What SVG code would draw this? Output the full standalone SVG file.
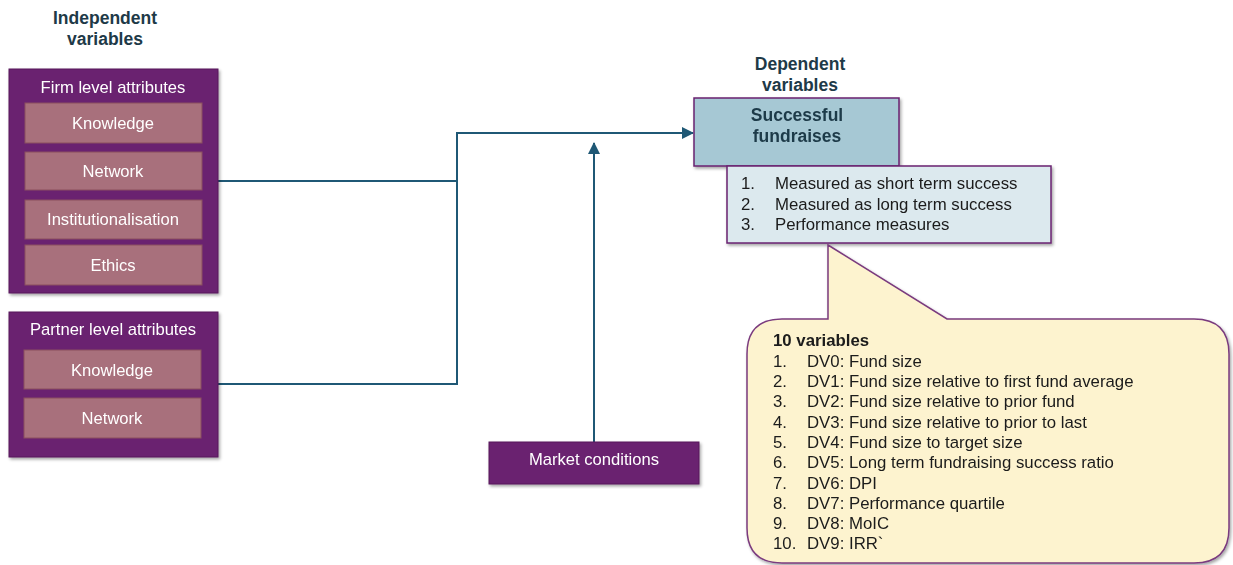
<svg xmlns="http://www.w3.org/2000/svg" width="1233" height="565" viewBox="0 0 1233 565">
  <defs>
    <style>
      .outer { fill: #6a2270; stroke: #56195b; stroke-width: 1; }
      .inner { fill: #a86f7b; stroke: #8a4f5e; stroke-width: 1; }
      .lbl { font-family: "Liberation Sans", Arial, sans-serif; font-size: 16.6px; fill: #ffffff; text-anchor: middle; }
      .head { font-family: "Liberation Sans", Arial, sans-serif; font-size: 17.5px; font-weight: bold; fill: #1e3a48; text-anchor: middle; }
      .body { font-family: "Liberation Sans", Arial, sans-serif; font-size: 16.8px; fill: #1a1a1a; }
      .conn { fill: none; stroke: #1f5875; stroke-width: 2; }
    </style>
    <filter id="shadow" x="-5%" y="-5%" width="112%" height="115%">
      <feDropShadow dx="1.5" dy="2" stdDeviation="1.5" flood-color="#000" flood-opacity="0.35"/>
    </filter>
    <marker id="arrow" markerWidth="12" markerHeight="12" refX="11" refY="6" orient="auto" markerUnits="userSpaceOnUse">
      <path d="M0,0 L12,6 L0,12 Z" fill="#1f5875"/>
    </marker>
  </defs>

  <rect width="1233" height="565" fill="#ffffff"/>

  <!-- Column headings -->
  <g id="heading-independent">
    <text class="head" x="105" y="24">Independent</text>
    <text class="head" x="105" y="45">variables</text>
  </g>
  <g id="heading-dependent">
    <text class="head" x="800" y="70">Dependent</text>
    <text class="head" x="800" y="91">variables</text>
  </g>

  <!-- Connectors -->
  <g id="connectors">
    <polyline class="conn" points="218,181 457,181"/>
    <polyline class="conn" points="218,384 457,384 457,133 693,133" marker-end="url(#arrow)"/>
    <line class="conn" x1="594" y1="442" x2="594" y2="143" marker-end="url(#arrow)"/>
  </g>

  <!-- Firm level attributes -->
  <g id="firm-level" filter="url(#shadow)">
    <rect class="outer" x="9" y="69" width="209" height="224"/>
    <text class="lbl" x="113" y="93">Firm level attributes</text>
    <rect class="inner" x="25" y="103" width="177" height="40"/>
    <text class="lbl" x="113" y="129">Knowledge</text>
    <rect class="inner" x="25" y="152" width="177" height="38"/>
    <text class="lbl" x="113" y="177">Network</text>
    <rect class="inner" x="25" y="200" width="177" height="39"/>
    <text class="lbl" x="113" y="225">Institutionalisation</text>
    <rect class="inner" x="25" y="245" width="177" height="40"/>
    <text class="lbl" x="113" y="271">Ethics</text>
  </g>

  <!-- Partner level attributes -->
  <g id="partner-level" filter="url(#shadow)">
    <rect class="outer" x="9" y="312" width="209" height="145"/>
    <text class="lbl" x="113" y="335">Partner level attributes</text>
    <rect class="inner" x="24" y="350" width="177" height="39"/>
    <text class="lbl" x="112" y="376">Knowledge</text>
    <rect class="inner" x="24" y="398" width="177" height="40"/>
    <text class="lbl" x="112" y="424">Network</text>
  </g>

  <!-- Market conditions -->
  <g id="market-conditions" filter="url(#shadow)">
    <rect class="outer" x="489" y="442" width="210" height="42"/>
    <text class="lbl" x="594" y="465">Market conditions</text>
  </g>

  <!-- Successful fundraises -->
  <g id="successful-fundraises" filter="url(#shadow)">
    <rect x="694" y="98" width="205" height="68" fill="#a6c8d4" stroke="#6a2270" stroke-width="1.5"/>
    <text class="head" x="797" y="121">Successful</text>
    <text class="head" x="797" y="142">fundraises</text>
  </g>

  <!-- Measures -->
  <g id="measures" filter="url(#shadow)">
    <rect x="727" y="166" width="324" height="77" fill="#dce9ee" stroke="#6a2270" stroke-width="1.5"/>
    <text class="body" x="741" y="189">1.</text>
    <text class="body" x="775" y="189">Measured as short term success</text>
    <text class="body" x="741" y="210">2.</text>
    <text class="body" x="775" y="210">Measured as long term success</text>
    <text class="body" x="741" y="230">3.</text>
    <text class="body" x="775" y="230">Performance measures</text>
  </g>

  <!-- Variables callout -->
  <g id="variables-callout" filter="url(#shadow)">
    <path d="M828,245 L947,319 L1194,319 Q1229,319 1229,354 L1229,528 Q1229,563 1194,563 L782,563 Q747,563 747,528 L747,354 Q747,319 782,319 L828,319 Z" fill="#fdf3cf" stroke="#7a3a7e" stroke-width="1.5"/>
    <text class="body" x="773" y="346" font-weight="bold" fill="#1e3a48">10 variables</text>
    <text class="body" x="773" y="367">1.</text><text class="body" x="807" y="367">DV0: Fund size</text>
    <text class="body" x="773" y="387">2.</text><text class="body" x="807" y="387">DV1: Fund size relative to first fund average</text>
    <text class="body" x="773" y="407">3.</text><text class="body" x="807" y="407">DV2: Fund size relative to prior fund</text>
    <text class="body" x="773" y="428">4.</text><text class="body" x="807" y="428">DV3: Fund size relative to prior to last</text>
    <text class="body" x="773" y="448">5.</text><text class="body" x="807" y="448">DV4: Fund size to target size</text>
    <text class="body" x="773" y="468">6.</text><text class="body" x="807" y="468">DV5: Long term fundraising success ratio</text>
    <text class="body" x="773" y="489">7.</text><text class="body" x="807" y="489">DV6: DPI</text>
    <text class="body" x="773" y="509">8.</text><text class="body" x="807" y="509">DV7: Performance quartile</text>
    <text class="body" x="773" y="529">9.</text><text class="body" x="807" y="529">DV8: MoIC</text>
    <text class="body" x="773" y="549">10.</text><text class="body" x="807" y="549">DV9: IRR`</text>
  </g>
</svg>
